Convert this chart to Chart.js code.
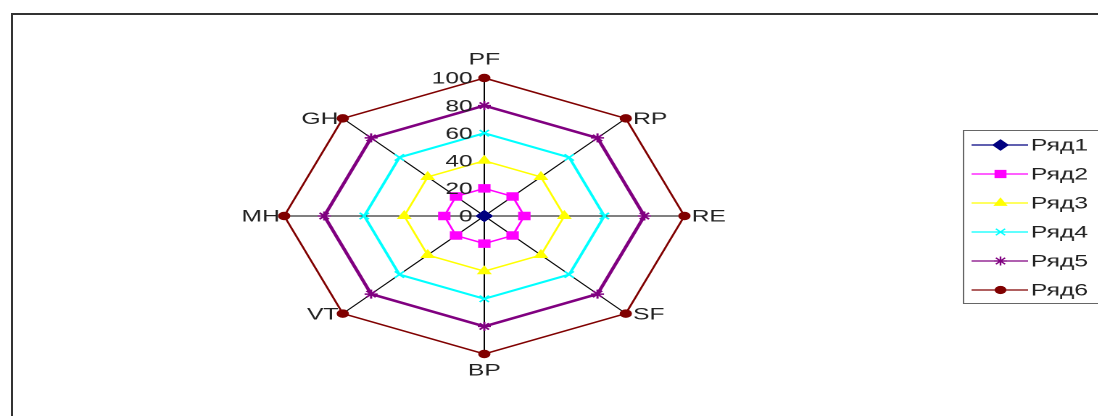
<!DOCTYPE html>
<html>
<head>
<meta charset="utf-8">
<script src="https://cdn.jsdelivr.net/npm/chart.js@4/dist/chart.umd.min.js"></script>
<style>
  html, body { margin: 0; padding: 0; background: #fff; overflow: hidden; }
  #frame { position: absolute; left: 11px; top: 13px; width: 2000px; height: 2000px;
           border-left: 2px solid #333; border-top: 2px solid #333; }
  #wrap { position: absolute; left: 0; top: 0; width: 757px; height: 416px;
          transform: scaleX(1.45); transform-origin: 0 0; }
</style>
</head>
<body>
<div id="frame"></div>
<div id="wrap"><canvas id="radar" width="757" height="416"></canvas></div>
<script>
/* DATA */
const axes = ["PF", "RP", "RE", "SF", "BP", "VT", "MH", "GH"];
const seriesNames = ["Ряд1", "Ряд2", "Ряд3", "Ряд4", "Ряд5", "Ряд6"];
const row1 = [0, 0, 0, 0, 0, 0, 0, 0];
const row2 = [20, 20, 20, 20, 20, 20, 20, 20];
const row3 = [40, 40, 40, 40, 40, 40, 40, 40];
const row4 = [60, 60, 60, 60, 60, 60, 60, 60];
const row5 = [80, 80, 80, 80, 80, 80, 80, 80];
const row6 = [100, 100, 100, 100, 100, 100, 100, 100];
const tickValues = [0, 20, 40, 60, 80, 100];

/* STYLES */
const colors = ["#000080", "#ff00ff", "#ffff00", "#00ffff", "#800080", "#800000"];
const markers = ["rectRot", "rect", "triangle", "crossRot", "star", "circle"];
const sizes = [5, 5, 4.5, 4.5, 4.5, 3.5];
const widths = [1.5, 1.5, 1.5, 2, 2.5, 1.5];
const rows = [row1, row2, row3, row4, row5, row6];

const font = '17px "Liberation Sans", Arial, sans-serif';

function drawMarker(ctx, style, x, y, r) {
    if (Chart.helpers && Chart.helpers.drawPoint) {
        Chart.helpers.drawPoint(ctx, { pointStyle: style, radius: r, rotation: 0, borderWidth: 1.5 }, x, y);
    } else {
        ctx.beginPath();
        ctx.arc(x, y, r, 0, Math.PI * 2);
        ctx.fill();
    }
}

/* labels, ticks and legend drawn with the scale's own geometry */
const extras = {
    id: "extras",
    afterDraw(chart) {
        const ctx = chart.ctx;
        const scale = chart.scales.r;
        ctx.save();
        ctx.font = font;
        ctx.fillStyle = "#222";

        // tick labels, right aligned next to the first axis
        ctx.textAlign = "right";
        ctx.textBaseline = "middle";
        tickValues.forEach(v => {
            const d = scale.getDistanceFromCenterForValue(v);
            ctx.fillText(String(v), scale.xCenter - 8, scale.yCenter - d + 1);
        });

        // axis names
        axes.forEach((name, i) => {
            const p = scale.getPointPosition(i, scale.drawingArea);
            const dx = p.x - scale.xCenter;
            const dy = p.y - scale.yCenter;
            if (Math.abs(dx) < 1) {
                ctx.textAlign = "center";
                ctx.textBaseline = "middle";
                ctx.fillText(name, p.x, p.y + (dy < 0 ? -18 : 17));
            } else {
                ctx.textAlign = dx > 0 ? "left" : "right";
                ctx.textBaseline = "middle";
                ctx.fillText(name, p.x + (dx > 0 ? 5 : -3), p.y + 1);
            }
        });

        // legend
        ctx.strokeStyle = "#666";
        ctx.lineWidth = 1;
        ctx.strokeRect(664.5, 130.5, 120, 173);
        ctx.textAlign = "left";
        ctx.textBaseline = "middle";
        seriesNames.forEach((name, i) => {
            const y = 145 + i * 29;
            ctx.strokeStyle = colors[i];
            ctx.fillStyle = colors[i];
            ctx.lineWidth = 1.2;
            ctx.beginPath();
            ctx.moveTo(670, y);
            ctx.lineTo(709, y);
            ctx.stroke();
            drawMarker(ctx, markers[i], 690, y, sizes[i]);
            ctx.fillStyle = "#222";
            ctx.fillText(name, 711, y + 1);
        });
        ctx.restore();
    }
};

new Chart(document.getElementById("radar"), {
    type: "radar",
    data: {
        labels: axes,
        datasets: rows.map((vals, i) => ({
            label: seriesNames[i],
            data: vals,
            borderColor: colors[i],
            backgroundColor: colors[i],
            pointBackgroundColor: colors[i],
            pointBorderColor: colors[i],
            pointStyle: markers[i],
            pointRadius: sizes[i],
            pointBorderWidth: 1.5,
            borderWidth: widths[i],
            fill: false,
            tension: 0
        }))
    },
    options: {
        responsive: false,
        devicePixelRatio: 2,
        animation: false,
        layout: { padding: { left: 196, right: 284, top: 78, bottom: 61 } },
        plugins: { legend: { display: false }, tooltip: { enabled: false } },
        scales: {
            r: {
                min: 0,
                max: 100,
                ticks: { stepSize: 20, display: false },
                grid: { display: false },
                angleLines: { display: true, color: "#000", lineWidth: 1 },
                pointLabels: { display: false }
            }
        }
    },
    plugins: [extras]
});
</script>
</body>
</html>
